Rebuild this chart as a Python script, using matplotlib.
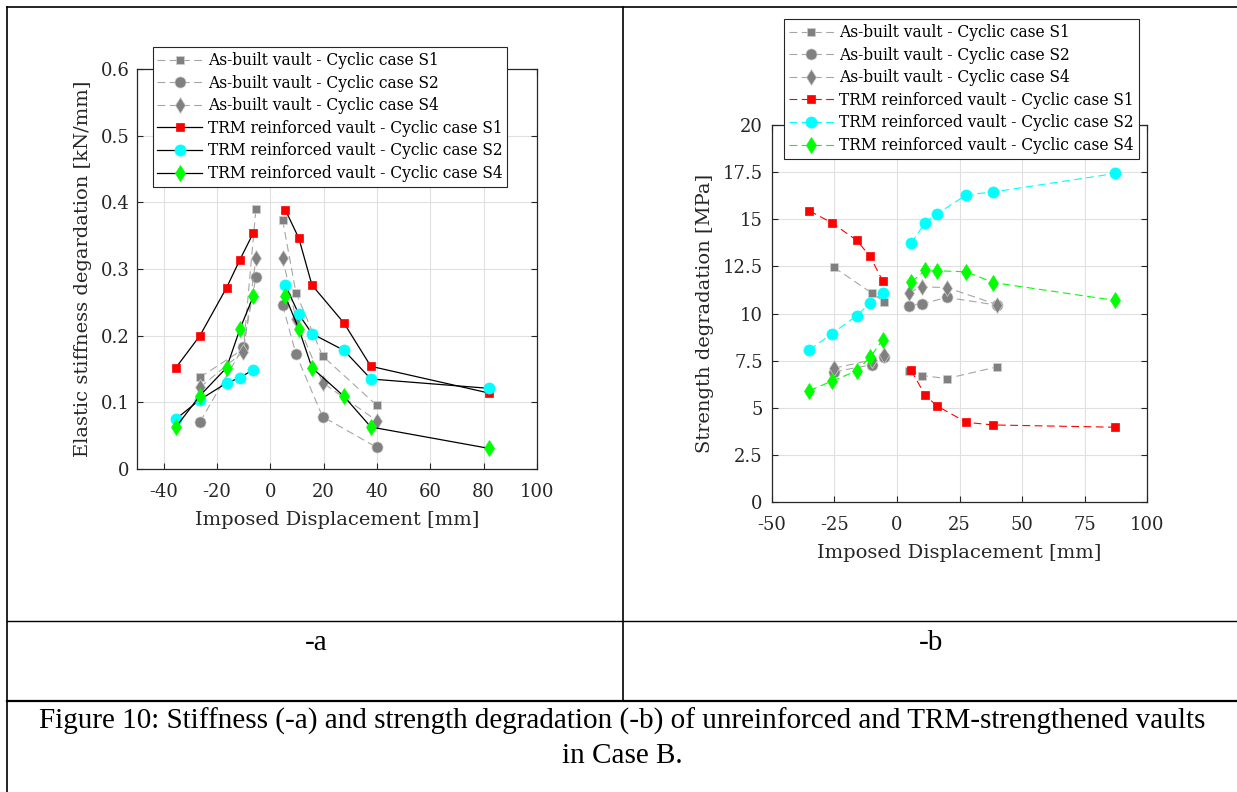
import numpy as np
import matplotlib
matplotlib.use('Agg')
import matplotlib.pyplot as plt
from matplotlib.lines import Line2D

plt.rcParams['font.family'] = ['DejaVu Serif']
plt.rcParams['axes.unicode_minus'] = False

# ---- data, panel a (stiffness) ----
xa_trm = [-35.4, -26.4, -16.4, -11.4, -6.4, 5.6, 10.7, 15.6, 27.6, 37.7, 81.9]
ya_trm_s1 = [0.152, 0.200, 0.272, 0.314, 0.354, 0.389, 0.346, 0.276, 0.219, 0.154, 0.114]
ya_trm_s2 = [0.075, 0.104, 0.129, 0.137, 0.149, 0.276, 0.232, 0.203, 0.178, 0.135, 0.121]
ya_trm_s4 = [0.063, 0.110, 0.152, 0.210, 0.259, 0.259, 0.210, 0.152, 0.109, 0.063, 0.031]

xa_ab = [-26.4, -10.1, -5.4, 4.6, 9.6, 19.6, 39.9]
ya_ab_s1 = [0.1375, 0.180, 0.3905, 0.3735, 0.2645, 0.1695, 0.0955]
ya_ab_s2 = [0.0705, 0.183, 0.288, 0.246, 0.1725, 0.0785, 0.0325]
ya_ab_s4 = [0.1225, 0.176, 0.316, 0.317, 0.225, 0.1295, 0.0725]

# ---- data, panel b (strength) ----
xb_trm = [-35.0, -26.0, -16.0, -10.7, -5.7, 5.7, 11.3, 16.0, 27.7, 38.4, 87.2]
yb_trm_s1 = [15.45, 14.82, 13.88, 13.03, 11.74, 7.00, 5.67, 5.11, 4.24, 4.10, 3.98]
yb_trm_s2 = [8.08, 8.93, 9.90, 10.56, 11.09, 13.74, 14.83, 15.28, 16.30, 16.45, 17.43]
yb_trm_s4 = [5.92, 6.42, 6.97, 7.69, 8.61, 11.67, 12.29, 12.27, 12.22, 11.65, 10.70]

xb_ab = [-25.1, -9.8, -5.0, 4.8, 10.0, 20.0, 40.0]
yb_ab_s1 = [12.45, 11.07, 10.63, 6.98, 6.72, 6.56, 7.18]
yb_ab_s2 = [6.91, 7.30, 7.70, 10.43, 10.52, 10.86, 10.45]
yb_ab_s4 = [7.11, 7.55, 7.80, 11.12, 11.42, 11.38, 10.48]

labels = ['As-built vault - Cyclic case S1', 'As-built vault - Cyclic case S2',
          'As-built vault - Cyclic case S4', 'TRM reinforced vault - Cyclic case S1',
          'TRM reinforced vault - Cyclic case S2', 'TRM reinforced vault - Cyclic case S4']
markers = ['s', 'o', 'd', 's', 'o', 'd']
msizes = [6, 8, 8, 6, 8, 8]
trm_colors = ['#ff0000', '#00ffff', '#00ff00']

W, H = 1237, 792
fig = plt.figure(figsize=(W / 100, H / 100), dpi=100)


def box(l, t, r, b):
    return [l / W, 1 - b / H, (r - l) / W, (b - t) / H]


def branches(ax, x, y, **kw):
    x = np.array(x)
    y = np.array(y)
    neg = x < 0
    h, = ax.plot(x[neg], y[neg], **kw)
    ax.plot(x[~neg], y[~neg], **kw)
    return h


def style_axes(ax, xpad, ypad):
    ax.grid(True, color='#e0e0e0', lw=0.8)
    ax.set_axisbelow(True)
    ax.tick_params(direction='in', length=4, width=0.8, labelsize=13,
                   right=True, top=True, colors='#262626')
    ax.tick_params(axis='x', pad=xpad)
    ax.tick_params(axis='y', pad=ypad)
    for s in ax.spines.values():
        s.set_color('#262626')
        s.set_linewidth(0.9)


def draw(ax, x_ab, ab_series, x_trm, trm_series, trm_line_black):
    handles = []
    for i, y in enumerate(ab_series):
        h = branches(ax, x_ab, y, color='#a6a6a6', ls=(0, (7, 4)), lw=0.8,
                     marker=markers[i], ms=msizes[i], mfc='#808080',
                     mec='#d0d0d0', mew=0.5)
        handles.append(h)
    for i, y in enumerate(trm_series):
        c = trm_colors[i]
        if trm_line_black:
            kw = dict(color='black', ls='-', lw=0.9)
        else:
            kw = dict(color=c, ls=(0, (7, 4)), lw=0.8)
        h = branches(ax, x_trm, y, marker=markers[3 + i], ms=msizes[3 + i],
                     mfc=c, mec=c, mew=0.5, **kw)
        handles.append(h)
    return handles


def add_legend(handles, x, y):
    leg = fig.legend(handles, labels, loc='upper left', bbox_to_anchor=(x / W, 1 - y / H),
                     borderaxespad=0, handlelength=2.9, labelspacing=0.36,
                     prop={'family': 'DejaVu Serif', 'size': 11.2},
                     fancybox=False, framealpha=1, edgecolor='#262626',
                     borderpad=0.3, handletextpad=0.35)
    leg.get_frame().set_linewidth(0.8)
    return leg


# panel a
ax1 = fig.add_axes(box(137, 69, 537, 469))
ha = draw(ax1, xa_ab, [ya_ab_s1, ya_ab_s2, ya_ab_s4], xa_trm,
          [ya_trm_s1, ya_trm_s2, ya_trm_s4], True)
ax1.set_xlim(-50, 100)
ax1.set_ylim(0, 0.6)
ax1.set_xticks(np.arange(-40, 101, 20))
ax1.set_yticks(np.arange(0, 0.61, 0.1))
ax1.set_yticklabels(['0', '0.1', '0.2', '0.3', '0.4', '0.5', '0.6'])
style_axes(ax1, 10, 5.5)
ax1.set_xlabel('Imposed Displacement [mm]', fontsize=14, color='#262626', labelpad=7)
ax1.set_ylabel('Elastic stiffness degardation [kN/mm]', fontsize=14, color='#262626', labelpad=6)
add_legend(ha, 152.7, 47.3)

# panel b
ax2 = fig.add_axes(box(771.7, 125, 1147.3, 502.3))
hb = draw(ax2, xb_ab, [yb_ab_s1, yb_ab_s2, yb_ab_s4], xb_trm,
          [yb_trm_s1, yb_trm_s2, yb_trm_s4], False)
ax2.set_xlim(-50, 100)
ax2.set_ylim(0, 20)
ax2.set_xticks(np.arange(-50, 101, 25))
ax2.set_yticks(np.arange(0, 20.1, 2.5))
ax2.set_yticklabels(['0', '2.5', '5', '7.5', '10', '12.5', '15', '17.5', '20'])
style_axes(ax2, 10, 6.5)
ax2.set_xlabel('Imposed Displacement [mm]', fontsize=14, color='#262626', labelpad=7)
ax2.set_ylabel('Strength degradation [MPa]', fontsize=14, color='#262626', labelpad=6)
add_legend(hb, 784, 19.3)


# table lines around the two panels
def hline(y, x0, x1, lw):
    fig.add_artist(Line2D([x0 / W, x1 / W], [1 - y / H, 1 - y / H], color='black', lw=lw))


def vline(x, y0, y1, lw):
    fig.add_artist(Line2D([x / W, x / W], [1 - y0 / H, 1 - y1 / H], color='black', lw=lw))


hline(7, 7, W, 1.2)
hline(621, 7, W, 1.0)
hline(701, 7, W, 1.6)
vline(7, 7, H, 1.2)
vline(623, 7, 701, 1.2)

cap = dict(family='Liberation Serif', ha='center', va='center', color='black')
fig.text(316 / W, 1 - 643 / H, '-a', fontsize=21, **cap)
fig.text(931 / W, 1 - 643 / H, '-b', fontsize=21, **cap)
fig.text(622 / W, 1 - 721 / H,
         'Figure 10: Stiffness (-a) and strength degradation (-b) of unreinforced and TRM-strengthened vaults',
         fontsize=21, **cap)
fig.text(622 / W, 1 - 756 / H, 'in Case B.', fontsize=21, **cap)

fig.savefig('out.png', dpi=100)
